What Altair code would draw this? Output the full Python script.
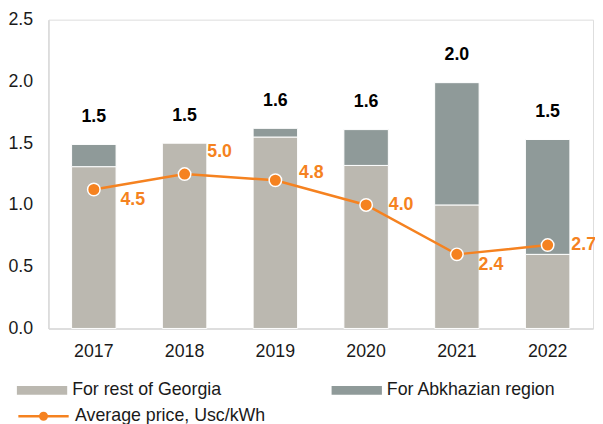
import altair as alt
import pandas as pd

years = ["2017", "2018", "2019", "2020", "2021", "2022"]
rest_of_georgia = [1.31, 1.50, 1.55, 1.32, 1.00, 0.60]
abkhazian_region = [0.18, 0.00, 0.07, 0.29, 0.99, 0.93]
avg_price = [4.5, 5.0, 4.8, 4.0, 2.4, 2.7]

series_names = ["For rest of Georgia", "For Abkhazian region"]
price_name = "Average price, Usc/kWh"

# label nudges (pixels) for the price labels, keyed by year
label_nudge = {
    "2017": (27, 11), "2018": (23, -22), "2019": (24, -7),
    "2020": (23, 0), "2021": (22, 11), "2022": (24, 0),
}

FONT = "Liberation Sans"
LIGHT = "#BBB8B0"
DARK = "#8F9A99"
ORANGE = "#F58220"
TXT = "#1a1a1a"

bar_rows = []
for i, y in enumerate(years):
    bar_rows.append({"year": y, "series": series_names[0], "value": rest_of_georgia[i], "ord": 0})
    bar_rows.append({"year": y, "series": series_names[1], "value": abkhazian_region[i], "ord": 1})
bar_df = pd.DataFrame(bar_rows)

tot_df = pd.DataFrame({
    "year": years,
    "total": [r + a for r, a in zip(rest_of_georgia, abkhazian_region)],
})
price_df = pd.DataFrame({"year": years, "price": avg_price, "series": [price_name] * len(years)})

x_axis = alt.Axis(title=None, labelAngle=0, ticks=False, labelPadding=14,
                  labelFontSize=18, labelFont=FONT, labelColor=TXT,
                  domainColor="#d9d9d9", domainWidth=1.5)
x_scale = alt.Scale(paddingInner=0.51, paddingOuter=0.255)


def x_enc():
    return alt.X("year:N", sort=years, scale=x_scale, axis=x_axis)


y_axis = alt.Axis(title=None, values=[0, 0.5, 1.0, 1.5, 2.0, 2.5], format=".1f",
                  grid=False, ticks=False, labelPadding=16, labelFontSize=18,
                  labelFont=FONT, labelColor=TXT,
                  domainColor="#d9d9d9", domainWidth=1.5)
ydom = alt.Scale(domain=[0, 2.5], nice=False, zero=True)

bars = alt.Chart(bar_df).transform_filter("datum.value > 0").mark_bar(
    stroke="white", strokeWidth=1
).encode(
    x=x_enc(),
    y=alt.Y("value:Q", stack="zero", scale=ydom, axis=y_axis),
    color=alt.Color(
        "series:N",
        scale=alt.Scale(domain=series_names, range=[LIGHT, DARK]),
        legend=alt.Legend(
            title=None, orient="none", legendX=-32, legendY=350,
            direction="horizontal", columns=2, columnPadding=111,
            symbolType="M-1,-0.175H1V0.175H-1Z", symbolSize=2601,
            symbolStrokeWidth=0, labelFontSize=18, labelFont=FONT,
            labelColor=TXT, labelOffset=5, labelLimit=0, padding=0,
        ),
    ),
    order=alt.Order("ord:Q"),
)

totals = alt.Chart(tot_df).mark_text(
    dy=-28, fontSize=18, fontWeight="bold", font=FONT, color="#000000"
).encode(
    x=x_enc(),
    y=alt.Y("total:Q", scale=ydom, axis=y_axis),
    text=alt.Text("total:Q", format=".1f"),
)

left = alt.layer(bars, totals)

pdom = alt.Scale(domain=[0, 10], nice=False, zero=True)

line = alt.Chart(price_df).mark_line(strokeWidth=2.5).encode(
    x=x_enc(),
    y=alt.Y("price:Q", scale=pdom, axis=None),
    stroke=alt.Stroke(
        "series:N",
        scale=alt.Scale(domain=[price_name], range=[ORANGE]),
        legend=alt.Legend(
            title=None, orient="none", legendX=-32, legendY=375,
            symbolType="M-1,0H1M-0.13,0A0.13,0.13 0 1,0 0.13,0A0.13,0.13 0 1,0 -0.13,0Z",
            symbolSize=2601, symbolStrokeWidth=2.5, symbolFillColor=ORANGE,
            symbolStrokeColor=ORANGE,
            labelFontSize=18, labelFont=FONT, labelColor=TXT, labelOffset=5,
            labelLimit=0, padding=0,
        ),
    ),
)

points = alt.Chart(price_df).mark_circle(
    size=160, color=ORANGE, opacity=1, stroke="white", strokeWidth=1.5
).encode(
    x=x_enc(),
    y=alt.Y("price:Q", scale=pdom, axis=None),
)

label_layers = []
for yr, (dx, dy) in label_nudge.items():
    label_layers.append(
        alt.Chart(price_df).transform_filter(alt.datum.year == yr).mark_text(
            dx=dx, dy=dy, align="left", baseline="middle", fontSize=18,
            fontWeight="bold", font=FONT, color=ORANGE
        ).encode(
            x=x_enc(),
            y=alt.Y("price:Q", scale=pdom, axis=None),
            text=alt.Text("price:Q", format=".1f"),
        )
    )

right = alt.layer(line, points, *label_layers)

chart = alt.layer(left, right).resolve_scale(y="independent").properties(
    width=552, height=313,
    autosize=alt.AutoSizeParams(type="none"),
    padding={"left": 41, "top": 9, "right": 2, "bottom": 94},
).configure_view(stroke=None).configure(font=FONT)

chart.save("out.html", embed_options={"renderer": "svg", "actions": False})
